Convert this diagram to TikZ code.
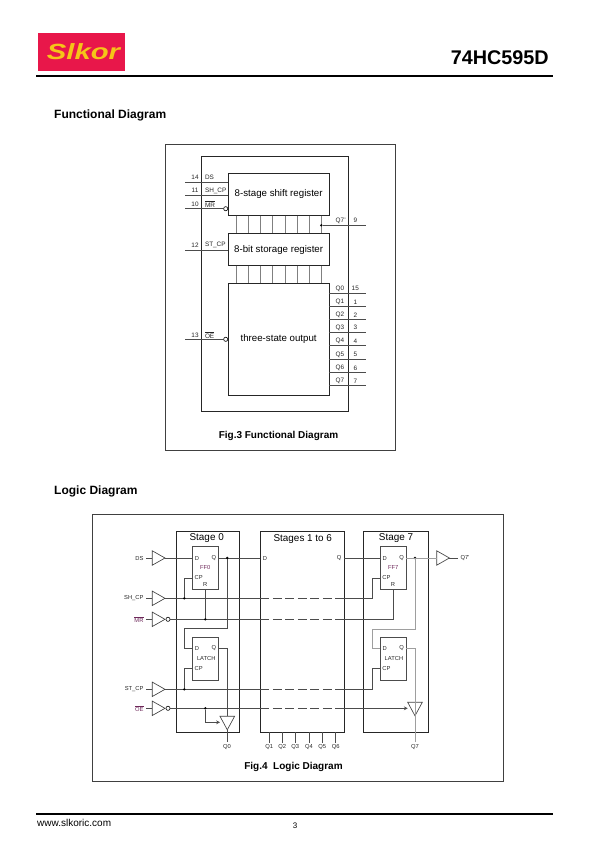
\documentclass[tikz,border=0pt]{standalone}
\usepackage{fontspec}
\setmainfont{Liberation Sans}
\usetikzlibrary{arrows.meta,shapes.geometric}
\definecolor{logoR}{RGB}{232,23,74}
\definecolor{logoY}{RGB}{245,197,24}
\definecolor{figP}{RGB}{110,40,90}
\newcommand{\fs}[1]{\fontsize{#1}{#1}\selectfont}
\tikzset{
  lab/.style={inner sep=0pt,outer sep=0pt,black!85,font=\fs{6.4}},
  pin/.style={inner sep=0pt,outer sep=0pt,black!85,font=\fs{5.8}},
  blk/.style={draw=black!85,line width=.9pt,inner sep=0pt,outer sep=0pt,anchor=north west},
  frm/.style={draw=black!75,line width=.9pt,inner sep=0pt,outer sep=0pt,anchor=north west},
  wire/.style={black!70,line width=.65pt},
  link/.style={black!50,line width=.7pt},
  gwire/.style={black!38,line width=.9pt},
  dashw/.style={black!70,line width=.65pt,dash pattern=on 9pt off 3.5pt},
  bubble/.style={circle,draw=black,line width=.6pt,fill=white,minimum size=4.2pt,inner sep=0pt,outer sep=0pt},
  buf/.style={isosceles triangle,isosceles triangle stretches,draw=black!75,line width=.65pt,fill=white,
    inner sep=0pt,outer sep=0pt,anchor=lower side},
  bufr/.style={buf,minimum width=14.4pt,minimum height=12.7pt},
  bufd/.style={buf,shape border rotate=270,minimum width=14.6pt,minimum height=13.5pt},
  dot/.style={circle,fill=black,minimum size=2.7pt,inner sep=0pt,outer sep=0pt},
}
\begin{document}
\begin{tikzpicture}[x=1pt,y=-1pt,>={Stealth[length=3.8pt,width=3.8pt]}]
\useasboundingbox (0,0) rectangle (596,842);
% page
\node[fill=logoR,anchor=north west,inner sep=0pt,minimum width=87pt,minimum height=37.7pt] (logo) at (38,33) {};
\node[logoY,inner sep=0pt,xscale=1.33,font=\fs{22}\bfseries\itshape] (logotxt) at (83.5,51.5) {Slkor};
\node[anchor=east,inner sep=0pt,font=\fs{19.8}\bfseries] (title) at (549,58) {74HC595D};
\node[anchor=north west,fill=black,inner sep=0pt,minimum width=517pt,minimum height=2.6pt] (toprule) at (36,74.4) {};
\node[anchor=north west,fill=black,inner sep=0pt,minimum width=517pt,minimum height=1.6pt] (botrule) at (36,813) {};
\node[anchor=west,inner sep=0pt,font=\fs{12}\bfseries] (head3) at (54,115.6) {Functional Diagram};
\node[anchor=west,inner sep=0pt,font=\fs{12}\bfseries] (head4) at (54,491.6) {Logic Diagram};
\node[anchor=west,inner sep=0pt,font=\fs{10}] (web) at (37,823) {www.slkoric.com};
\node[inner sep=0pt,font=\fs{8}] (pageno) at (295,826) {3};

% functional diagram
\node[frm,minimum width=230pt,minimum height=306pt] (fig3) at (165.5,144.5) {};
\node[blk,minimum width=147pt,minimum height=255.2pt] (outer) at (201,156.5) {};
\node[blk,minimum width=100.7pt,minimum height=42.7pt,font=\fs{9.7}] (shift) at (228.3,173) {\raisebox{-.8pt}{8-stage shift register}};
\node[blk,minimum width=100.7pt,minimum height=32.4pt,font=\fs{9.7}] (store) at (228.3,233.3) {\raisebox{-.8pt}{8-bit storage register}};
\node[blk,minimum width=100.7pt,minimum height=111.7pt,font=\fs{9.7}] (tsout) at (228.3,283.3) {\raisebox{-.8pt}{three-state output}};
\foreach \i/\x in {0/236.3,1/248.3,2/260.7,3/272.7,4/285,5/297,6/309.3,7/321.3}{
  \coordinate (lk\i) at (\x,0);
  \draw[link] (lk\i |- shift.south)--(lk\i |- store.north);
  \draw[link] (lk\i |- store.south)--(lk\i |- tsout.north);
}
\foreach \n/\y/\num/\txt in {ds/182.3/14/DS,sh/195.3/11/SH\_CP,st/250/12/ST\_CP}{
  \coordinate (in\n) at (185,\y);
  \node[lab] (num\n) at (195,\y-4.6) {\num};
  \node[lab,anchor=west] (txt\n) at (205,\y-4.6) {\txt};
}
\draw[wire] (inds)--(inds -| shift.west);
\draw[wire] (insh)--(insh -| shift.west);
\draw[wire] (inst)--(inst -| store.west);
\node[bubble] (bubmr) at (225.7,208.7) {};
\node[bubble] (buboe) at (225.7,339.3) {};
\coordinate (inmr) at (185,208.7);
\coordinate (inoe) at (185,339.3);
\draw[wire] (inmr)--(bubmr);
\draw[wire] (inoe)--(buboe);
\node[lab] (nummr) at (195,203.8) {10};
\node[lab,anchor=west] (txtmr) at (205,203.8) {$\overline{\mbox{MR}}$};
\node[lab] (numoe) at (195,334.8) {13};
\node[lab,anchor=west] (txtoe) at (205,334.8) {$\overline{\mbox{OE}}$};
\foreach \i/\y/\num in {0/293.3/15,1/306.7/1,2/319.7/2,3/332.3/3,4/345.7/4,5/359.3/5,6/372.7/6,7/385.7/7}{
  \coordinate (out\i) at (366,\y);
  \draw[wire] (out\i -| tsout.east)--(out\i);
  \node[lab] (qt\i) at (340,\y-4.6) {Q\i};
  \node[lab] (qn\i) at (355.3,\y-4.6) {\num};
}
\node[dot] (dotq) at (321.3,225.3) {};
\coordinate (outq) at (366,225.3);
\draw[wire] (dotq)--(outq);
\node[lab] (qtq) at (340.7,220.7) {Q7'};
\node[lab] (qnq) at (355.3,220.7) {9};
\node[inner sep=0pt,font=\fs{10}\bfseries] (cap3) at (278.5,435.6) {Fig.3 Functional Diagram};

% logic diagram
\node[frm,minimum width=411pt,minimum height=267pt] (fig4) at (92,514) {};
\node[blk,minimum width=63pt,minimum height=200.3pt] (stage0) at (176.7,531.7) {};
\node[blk,minimum width=83.7pt,minimum height=200.3pt] (stagem) at (260.3,531.7) {};
\node[blk,minimum width=65pt,minimum height=200.3pt] (stage7) at (363.3,531.7) {};
\node[inner sep=0pt,font=\fs{9.9}] (t0) at (206.7,538) {Stage 0};
\node[inner sep=0pt,font=\fs{9.9}] (tm) at (302.8,539) {Stages 1 to 6};
\node[inner sep=0pt,font=\fs{9.9}] (t7) at (396,538) {Stage 7};
\node[blk,draw=black!70,line width=.75pt,minimum width=26pt,minimum height=43pt] (ff0) at (192.3,546) {};
\node[blk,draw=black!70,line width=.75pt,minimum width=26pt,minimum height=42.7pt] (la0) at (192.3,637.3) {};
\node[blk,draw=black!70,line width=.75pt,minimum width=26.3pt,minimum height=43pt] (ff7) at (380,546) {};
\node[blk,draw=black!70,line width=.75pt,minimum width=26.3pt,minimum height=42.7pt] (la7) at (380,637.3) {};
\foreach \b/\x in {ff0/192.3,ff7/380}{
  \node[pin] (\b d) at (\x+4.7,558) {D};
  \node[pin] (\b q) at (\x+21.7,558) {Q};
  \node[pin] (\b c) at (\x+6.4,577.7) {CP};
  \node[pin] (\b r) at (\x+13,584) {R};
}
\foreach \b/\x in {la0/192.3,la7/380}{
  \node[pin] (\b d) at (\x+4.7,648) {D};
  \node[pin] (\b q) at (\x+21.7,648) {Q};
  \node[pin] (\b n) at (\x+14,658.7) {LATCH};
  \node[pin] (\b c) at (\x+6.4,668) {CP};
}
\node[pin,figP] (ff0n) at (205.3,567.7) {FF0};
\node[pin,figP] (ff7n) at (393.3,567.7) {FF7};
\foreach \n/\y/\txt in {ds/558/DS,sh/598.3/SH\_CP,st/689.3/ST\_CP}{
  \coordinate (p\n) at (146,\y);
  \node[bufr] (b\n) at (152.3,\y) {};
  \node[pin,anchor=east] (l\n) at (143.5,\y) {\txt};
  \draw[wire] (p\n)--(b\n.lower side);
}
\foreach \n/\y/\txt in {mr/619.3/MR,oe/708.3/OE}{
  \coordinate (p\n) at (146,\y);
  \node[bufr] (b\n) at (152.3,\y) {};
  \node[bubble] (o\n) at (168,\y) {};
  \node[pin,anchor=east,figP] (l\n) at (143.5,\y) {$\overline{\mbox{\txt}}$};
  \draw[wire] (p\n)--(b\n.lower side);
}
\coordinate (c0x) at (184.3,0);
\coordinate (c7x) at (372.7,0);
\coordinate (q0x) at (227.3,0);
\coordinate (q7x) at (415,0);
\coordinate (ff0cp) at (192.3,578.3);
\coordinate (la0cp) at (192.3,668.3);
\coordinate (ff7cp) at (380,578.3);
\coordinate (la7cp) at (380,668.3);
\coordinate (ff0rp) at (205.3,589);
\coordinate (ff7rp) at (393.3,589);
\coordinate (fdl0) at (192.3,648);
\coordinate (fdl7) at (380,648);
\coordinate (qo0) at (218.3,558);
\coordinate (qol0) at (218.3,648);
\coordinate (qo7) at (406.3,558);
\coordinate (qol7) at (406.3,648);
\coordinate (fb0) at (184.3,628.3);
\coordinate (fb7) at (372.7,629);
% buses
\draw[wire] (bds.apex)--(ff0.west |- bds.apex);
\draw[wire] (qo0)--(stagem.west |- qo0);
\draw[wire] (stagem.east |- qo0)--(ff7.west |- qo0);
\foreach \n in {sh,st}{
  \draw[wire] (b\n.apex)--(stagem.west |- b\n.apex);
  \draw[dashw] (stagem.west |- b\n.apex)--(stagem.east |- b\n.apex);
}
\foreach \n in {mr,oe}{
  \draw[wire] (o\n)--(stagem.west |- o\n);
  \draw[dashw] (stagem.west |- o\n)--(stagem.east |- o\n);
}
\draw[wire] (stagem.east |- bsh.apex)-|(c7x |- ff7cp)--(ff7cp);
\draw[wire] (stagem.east |- bst.apex)-|(c7x |- la7cp)--(la7cp);
\draw[wire] (stagem.east |- omr)-|(ff7rp);
\node[dot] (d0) at (184.3,598.3) {};
\node[dot] (d1) at (205.3,619.3) {};
\node[dot] (d2) at (184.3,689.3) {};
\node[dot] (d3) at (205.3,708.3) {};
\node[dot] (d4) at (227.3,558) {};
\node[dot] (d5) at (415,558) {};
\draw[wire] (d0)--(c0x |- ff0cp)--(ff0cp);
\draw[wire] (d2)--(c0x |- la0cp)--(la0cp);
\draw[wire] (d1)--(ff0rp);
\draw[wire] (d4)--(q0x |- fb0)--(fb0)--(fb0 |- fdl0)--(fdl0);
\draw[gwire] (d5)--(q7x |- fb7)--(fb7)--(fb7 |- fdl7)--(fdl7);
% output buffers
\node[bufd] (b0) at (227.3,716.3) {};
\node[bufd,fill=none] (b7) at (415,702.3) {};
\coordinate (qq0) at (227.3,741.7);
\coordinate (qq7) at (415,741.7);
\coordinate (en0) at (220,722.3);
\coordinate (en7) at (407.7,708.3);
\draw[wire] (qol0)--(q0x |- qol0)--(b0.lower side);
\draw[wire] (b0.apex)--(qq0);
\draw[gwire] (qol7)--(q7x |- qol7)--(qq7);
\draw[wire,->] (d3)--(d3 |- en0)--(en0);
\draw[wire,->] (stagem.east |- ooe)--(en7);
\node[pin] (q0t) at (227,747.5) {Q0};
\node[pin] (q7t) at (415,747.5) {Q7};
\node[pin] (dm) at (265,558) {D};
\node[pin] (qm) at (339,558) {Q};
\foreach \i/\x in {1/269.3,2/282.3,3/295.3,4/309,5/322.3,6/335.7}{
  \coordinate (m\i) at (\x,743);
  \draw[wire] (m\i |- stagem.south)--(m\i);
  \node[pin] (mt\i) at (\x,747.5) {Q\i};
}
\node[bufr] (bq7) at (436.7,558) {};
\coordinate (pq7) at (457.7,558);
\draw[gwire] (qo7)--(bq7.lower side);
\draw[wire] (bq7.apex)--(pq7);
\node[pin,anchor=west] (lq7) at (460.5,558) {Q7'};
\node[inner sep=0pt,font=\fs{10}\bfseries] (cap4) at (293.5,766.6) {Fig.4\ \ Logic Diagram};
\end{tikzpicture}
\end{document}
